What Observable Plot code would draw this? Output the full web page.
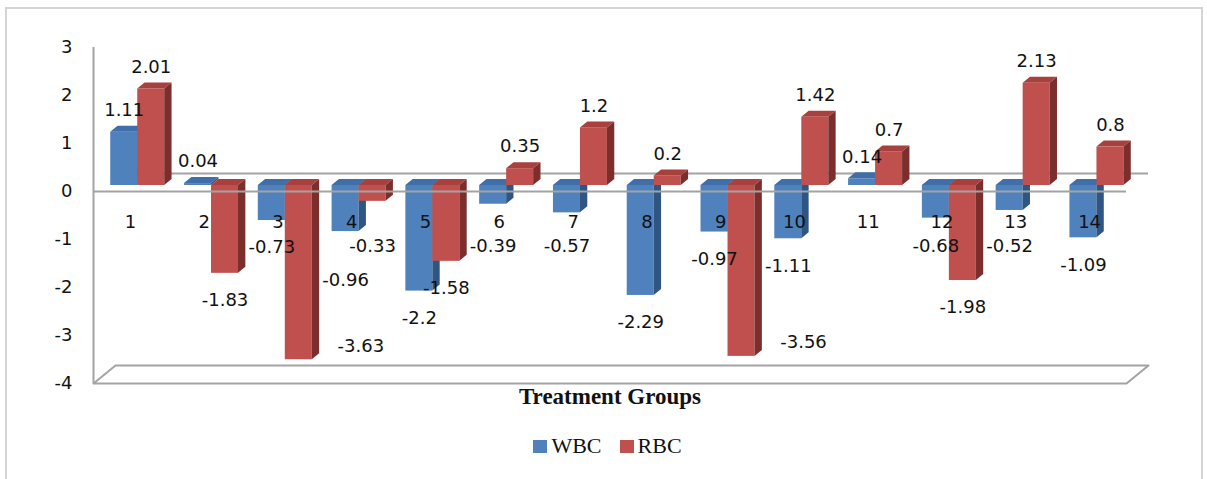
<!DOCTYPE html>
<html>
<head>
<meta charset="utf-8">
<script src="https://cdn.jsdelivr.net/npm/d3@7"></script>
<script src="https://cdn.jsdelivr.net/npm/@observablehq/plot@0.6"></script>
<style>
  html, body { margin: 0; padding: 0; background: #fff; }
  #page { position: relative; width: 1207px; height: 479px; overflow: hidden; }
  #frame { position: absolute; left: 5px; top: 7px; width: 1198px; height: 500px; border: 2px solid #d4d4d4; box-sizing: border-box; }
  #chart { position: absolute; left: 0; top: 0; }
  #legend { display: flex; justify-content: center; align-items: center; gap: 0; padding-top: 8px; padding-left: 8px;
            font-family: "Liberation Serif", "Times New Roman", serif; font-size: 22px; line-height: 26px; color: #111; }
  .sw { display: inline-block; width: 14px; height: 13px; margin-right: 4px; }
  .item { display: flex; align-items: center; margin: 0 9px; }
</style>
</head>
<body>
<div id="page">
  <div id="frame"></div>
  <div id="chart"></div>
</div>
<script>
// ---- data ----
const groups = [1, 2, 3, 4, 5, 6, 7, 8, 9, 10, 11, 12, 13, 14];
const seriesNames = ["WBC", "RBC"];
const wbc = [1.11, 0.04, -0.73, -0.96, -2.2, -0.39, -0.57, -2.29, -0.97, -1.11, 0.14, -0.68, -0.52, -1.09];
const rbc = [2.01, -1.83, -3.63, -0.33, -1.58, 0.35, 1.2, 0.2, -3.56, 1.42, 0.7, -1.98, 2.13, 0.8];
const yTicks = [-4, -3, -2, -1, 0, 1, 2, 3];
const xTitle = "Treatment Groups";

// ---- layout / style ----
const W = 1207, H = 425;
const X0 = 93, X1 = 1126, Y0 = 47, Y1 = 383;
const yMin = yTicks[0], yMax = yTicks[yTicks.length - 1];
const kx = (groups.length) / (X1 - X0);          // data units per px (x)
const ky = (yMax - yMin) / (Y1 - Y0);             // data units per px (y)
const depthPxX = 22, depthPxY = 18;               // full 3D depth
const xOff = depthPxX / 3 * kx, yOff = depthPxY / 3 * ky; // bar plane offset
const dX = depthPxX / 3 * kx, dY = depthPxY / 3 * ky;     // bar depth
const barW = 27 * kx;
const colors = {
  WBC: {front: "#4F81BD", top: "#3F6EA8", side: "#2F5583"},
  RBC: {front: "#C0504D", top: "#A8413E", side: "#7C2E2C"}
};
const gray = "#a3a3a3";
const numFont = "DejaVu Sans";
const numSize = 18;

const values = {WBC: wbc, RBC: rbc};
const bars = [];
seriesNames.forEach((s, si) => {
  groups.forEach((g, i) => {
    const v = values[s][i];
    const x1 = g + xOff + (si === 0 ? -barW : 0);
    const x2 = x1 + barW;
    bars.push({id: s + g, series: s, g, v, x1, x2, lo: Math.min(v, 0) + yOff, hi: Math.max(v, 0) + yOff});
  });
});

function faceMarks(s) {
  const b = bars.filter(d => d.series === s);
  const top = b.flatMap(d => [
    {id: d.id, y: d.hi, x1: d.x1, x2: d.x2},
    {id: d.id, y: d.hi + dY, x1: d.x1 + dX, x2: d.x2 + dX}
  ]);
  const side = b.flatMap(d => [
    {id: d.id, x: d.x2, y1: d.lo, y2: d.hi},
    {id: d.id, x: d.x2 + dX, y1: d.lo + dY, y2: d.hi + dY}
  ]);
  return [
    Plot.rect(b, {x1: "x1", x2: "x2", y1: "lo", y2: "hi", fill: colors[s].front}),
    Plot.areaX(top, {y: "y", x1: "x1", x2: "x2", z: "id", fill: colors[s].top}),
    Plot.areaY(side, {x: "x", y1: "y1", y2: "y2", z: "id", fill: colors[s].side})
  ];
}

// data labels (Excel-like placement with simple collision avoidance)
const catLabelLimit = -1.146; // keep small negative labels below the category labels
const labels = bars.map(d => {
  const cx = (d.x1 + d.x2) / 2;
  if (d.v >= 0) return {x: cx, y: d.v + yOff + 22 * ky, text: String(d.v)};
  if (d.v < -3.3) return {x: cx + 62 * kx, y: d.v + yOff + 14 * ky, text: String(d.v)};
  return {x: cx, y: Math.min(d.v + yOff - 27 * ky, catLabelLimit), text: String(d.v)};
});
{
  const placed = [];
  const order = labels.slice().sort((a, b) => b.y - a.y); // top first
  for (const L of order) {
    let moved = true;
    while (moved) {
      moved = false;
      for (const P of placed) {
        const wx = (L.text.length + P.text.length) / 2 * 0.6 * numSize;
        if (Math.abs(L.x - P.x) / kx < wx && Math.abs(L.y - P.y) / ky < numSize) {
          L.y = P.y - 34 * ky;
          moved = true;
        }
      }
    }
    placed.push(L);
  }
}

const floor = [
  {x: 0.5, y: yMin},
  {x: groups.length + 0.5, y: yMin},
  {x: groups.length + 0.5 + depthPxX * kx, y: yMin + depthPxY * ky},
  {x: 0.5 + depthPxX * kx, y: yMin + depthPxY * ky},
  {x: 0.5, y: yMin}
];

const chart = Plot.plot({
  width: W,
  height: H,
  marginLeft: X0,
  marginRight: W - X1,
  marginTop: Y0,
  marginBottom: H - Y1,
  style: {fontFamily: numFont, fontSize: numSize + "px", background: "transparent", color: "#111", overflow: "visible"},
  x: {domain: [0.5, groups.length + 0.5], axis: null},
  y: {domain: [yMin, yMax], ticks: yTicks, tickSize: 0, tickPadding: 21,
      tickFormat: d => String(d), label: null},
  marks: [
    Plot.line(floor, {x: "x", y: "y", stroke: gray, strokeWidth: 2, fill: "white"}),
    Plot.ruleY([0], {x1: 0.5 + depthPxX * kx, x2: groups.length + 0.5 + depthPxX * kx, y: depthPxY * ky, stroke: gray, strokeWidth: 2}),
    Plot.ruleX([0.5], {y1: yMin, y2: yMax, stroke: gray, strokeWidth: 2}),
    ...faceMarks("WBC"),
    ...faceMarks("RBC"),
    Plot.ruleY([0], {x1: 0.5, x2: groups.length + 0.5, stroke: gray, strokeWidth: 2}),
    Plot.text(groups, {x: d => d, y: 0, dy: 31, text: d => String(d), fontSize: numSize, fontFamily: numFont, fill: "#111"}),
    Plot.text(labels, {x: "x", y: "y", text: "text", fontSize: numSize, fontFamily: numFont, fill: "#111"}),
    Plot.text([xTitle], {frameAnchor: "bottom", dy: 20, text: d => d, fontSize: 23, fontWeight: "bold",
      fontFamily: "Liberation Serif, Times New Roman, serif", fill: "#111"})
  ]
});

const legend = document.createElement("div");
legend.id = "legend";
legend.innerHTML = seriesNames.map(s =>
  `<span class="item"><span class="sw" style="background:${colors[s].front}"></span>${s}</span>`).join("");

const host = document.getElementById("chart");
host.appendChild(chart);
host.appendChild(legend);
</script>
</body>
</html>
